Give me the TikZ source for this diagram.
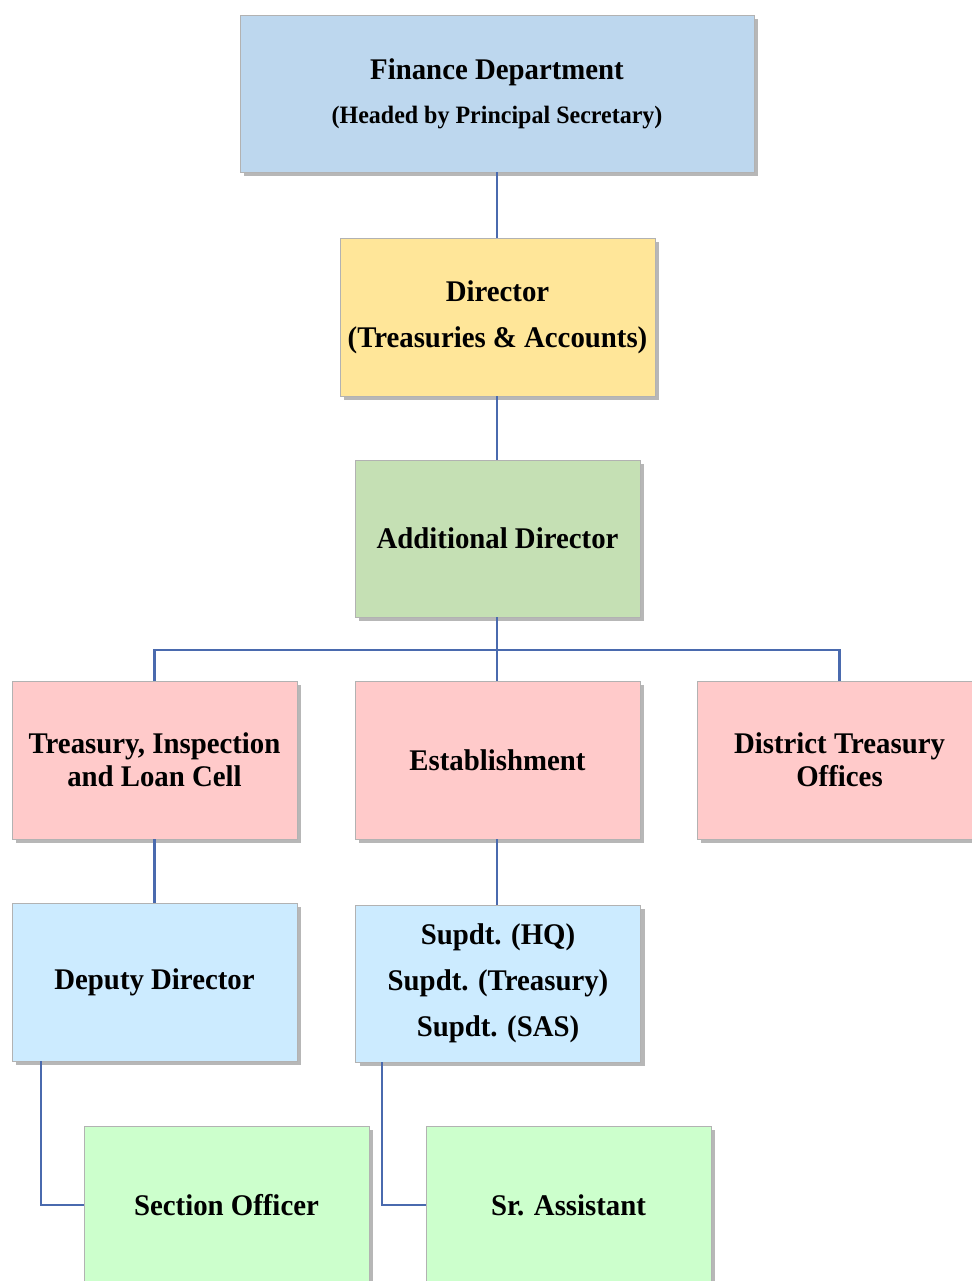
\documentclass[tikz,border=0pt]{standalone}
\usepackage{fontspec}
\setmainfont{Liberation Serif}[FakeStretch=0.96]
\usetikzlibrary{shadows}
\definecolor{finblue}{HTML}{BDD7EE}
\definecolor{diryel}{HTML}{FFE699}
\definecolor{addgrn}{HTML}{C5E0B4}
\definecolor{cellpink}{HTML}{FFCACA}
\definecolor{ltblue}{HTML}{CCEBFF}
\definecolor{ltgrn}{HTML}{CCFFCC}
\definecolor{linkblue}{HTML}{4A6AAE}
\tikzset{
  orgbox/.style={draw=black!30, line width=0.6pt, minimum width=285pt, minimum height=158pt,
    align=center, inner sep=0pt, font=\bfseries\fontsize{30}{33}\selectfont,
    drop shadow={shadow xshift=4pt, shadow yshift=-4pt, opacity=0.4, fill=black!70}},
  link/.style={draw=linkblue, line width=2.2pt}
}
\begin{document}
\begin{tikzpicture}[x=1pt,y=-1pt]
\useasboundingbox (0,0) rectangle (971,1281);
\node[orgbox, fill=finblue, minimum width=514pt, minimum height=157pt] (fin) at (497,93.5)
  {Finance Department\\[11pt]{\fontsize{25}{28}\selectfont (Headed by Principal Secretary)}};
\node[orgbox, fill=diryel, minimum width=315pt] (dir) at (497.5,317)
  {Director\\[13pt](Treasuries \& Accounts)};
\node[orgbox, fill=addgrn, minimum height=157pt] (add) at (497.5,538.5) {Additional Director};
\node[orgbox, fill=cellpink] (tilc) at (154.5,760) {Treasury, Inspection\\and Loan Cell};
\node[orgbox, fill=cellpink] (est) at (497.5,760) {Establishment};
\node[orgbox, fill=cellpink] (dto) at (839.5,760) {District Treasury\\Offices};
\node[orgbox, fill=ltblue] (dd) at (154.5,982) {Deputy Director};
\node[orgbox, fill=ltblue, minimum height=157pt] (sup) at (498,983.5)
  {Supdt. (HQ)\\[13pt]Supdt. (Treasury)\\[13pt]Supdt. (SAS)};
\node[orgbox, fill=ltgrn] (so) at (226.5,1205) {Section Officer};
\node[orgbox, fill=ltgrn] (sra) at (568.5,1205) {Sr. Assistant};
\coordinate (bus) at (497,650);
\draw[link] (fin.south) -- (fin.south |- dir.north);
\draw[link] (fin.south |- dir.south) -- (fin.south |- add.north);
\draw[link] (fin.south |- add.south) -- (bus);
\draw[link] (tilc.north) |- (bus) -| (dto.north);
\draw[link] (bus) -- (bus |- est.north);
\draw[link] (tilc.south) -- (dd.north);
\draw[link] (bus |- est.south) -- (bus |- sup.north);
\draw[link] (dd.south west) ++(29pt,0) coordinate (ddx) |- (so.west);
\draw[link] (sup.south west) ++(27pt,0) coordinate (supx) |- (sra.west);
\end{tikzpicture}
\end{document}
